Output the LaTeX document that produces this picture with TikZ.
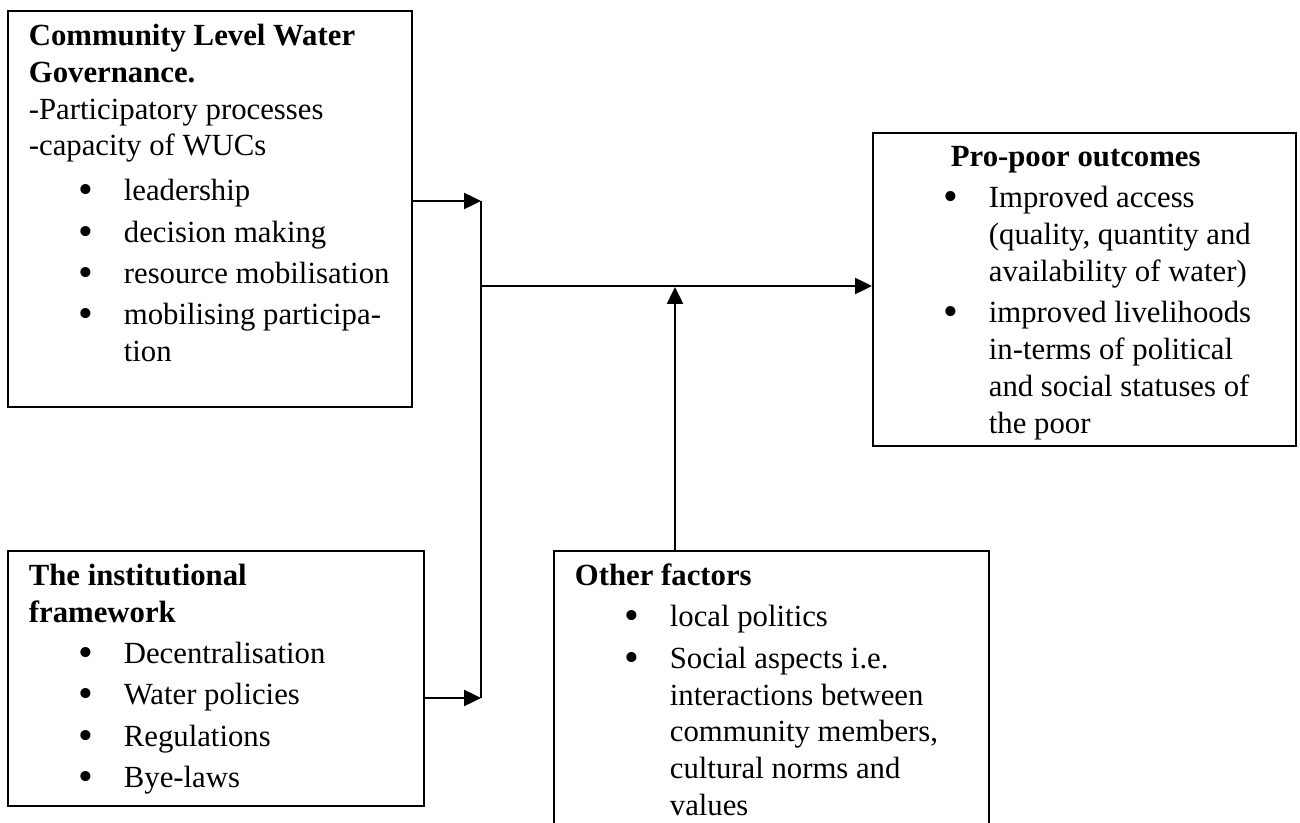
\documentclass[tikz,border=0pt]{standalone}
\usepackage{fontspec}
\setmainfont{Liberation Serif}
\usetikzlibrary{arrows.meta}

\newcommand{\bitem}[1]{\par\vspace{2.5pt}\hangindent=1.9cm\hangafter=0\noindent\llap{\makebox[0.9cm][l]{\raisebox{-0.1em}{\fontsize{24}{24}\selectfont\textbullet}}}#1}
\newcommand{\boxtext}[3]{\parbox[t][#2][t]{#1}{\setlength{\parindent}{0pt}\fontsize{17.5}{21}\selectfont\raggedright #3}}

\begin{document}
\begin{tikzpicture}[box/.style={draw, line width=1pt, anchor=north west, inner xsep=0.42cm, inner ysep=0.26cm}, link/.style={line width=1.4pt, -{Triangle[length=0.34cm, width=0.32cm]}}]
        \useasboundingbox (0,0) rectangle (26,-16.46);
        \clip (0,0) rectangle (26,-16.46);

        \node[box] (1) at (0.14,-0.2) {\boxtext{7.24cm}{7.4cm}{\textbf{Community Level Water\newline Governance.}\par -Participatory processes\par -capacity of WUCs\par\vspace{2pt}
        \bitem{leadership}\bitem{decision making}\bitem{resource mobilisation}\bitem{mobilising participa-\newline tion}}};
        \node[box] (2) at (17.44,-2.64) {\boxtext{7.62cm}{5.74cm}{\hspace*{1.14cm}\textbf{Pro-poor outcomes}
        \bitem{Improved access\newline (quality, quantity and\newline availability of water)}\bitem{improved livelihoods\newline in-terms of political\newline and social statuses of\newline the poor}}};
        \node[box] (3) at (0.14,-11.0) {\boxtext{7.48cm}{4.58cm}{\textbf{The institutional\newline framework}
        \bitem{Decentralisation}\bitem{Water policies}\bitem{Regulations}\bitem{Bye-laws}}};
        \node[box] (4) at (11.06,-11.0) {\boxtext{7.86cm}{5.6cm}{\textbf{Other factors}
        \bitem{local politics}\bitem{Social aspects i.e.\newline interactions between\newline community members,\newline cultural norms and\newline values}}};

        \coordinate (top) at (9.62,-4.02);
        \coordinate (bot) at (9.62,-13.96);
        \coordinate (mid) at (9.62,-5.72);
        \coordinate (up) at (13.5,-5.74);

        \draw[link] (1.east |- top) to (top);
        \draw[link] (3.east |- bot) to (bot);
        \draw[line width=1pt] (top) to (bot);
        \draw[link] (mid) to (2.west |- mid);
        \draw[link] (4.north -| up) to (up);

\end{tikzpicture}
\end{document}
